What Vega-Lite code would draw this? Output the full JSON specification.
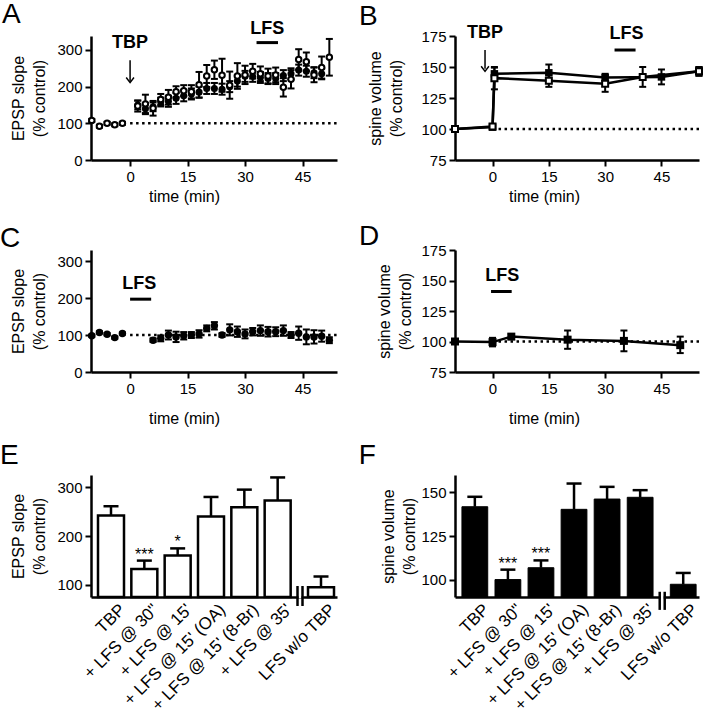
{
"$schema": "https://vega.github.io/schema/vega-lite/v6.json",
"padding": {"left": 0, "top": 1, "right": 0, "bottom": 0},
"spacing": 16,
"vconcat": [
 {"bounds": "flush", "columns": 2, "spacing": {"row": 90, "column": 118}, "concat": [
   {
    "width": 246, "height": 124,
    "data": {"name": "A"},
    "encoding": {
     "x": {"field": "t", "type": "quantitative", "scale": {"domain": [-10.2, 54], "nice": false, "zero": false}, "axis": {"title": "time (min)", "values": [0, 15, 30, 45], "titleX": 93, "titleY": 41, "titleBaseline": "alphabetic"}},
     "y": {"field": "v", "type": "quantitative", "scale": {"domain": [0, 338], "nice": false, "zero": false}, "axis": {"title": ["EPSP slope", "(% control)"], "values": [0, 100, 200, 300], "titleX": -65, "titleBaseline": "bottom"}}
    },
    "layer": [
     {"transform": [{"filter": "datum.s === 'o' && datum.t === -10"}], "mark": {"type": "rule", "strokeDash": [2.5, 3.5], "strokeWidth": 2.5, "color": "black"}, "encoding": {"x": {"datum": 0}, "x2": {"datum": 54}, "y": {"datum": 100}}},
     {"mark": {"type": "rule", "strokeWidth": 2, "color": "black"}, "encoding": {"y": {"field": "lo", "type": "quantitative"}, "y2": {"field": "hi"}}},
     {"mark": {"type": "tick", "orient": "horizontal", "size": 7, "thickness": 2, "color": "black", "opacity": 1}, "encoding": {"y": {"field": "lo", "type": "quantitative"}}},
     {"mark": {"type": "tick", "orient": "horizontal", "size": 7, "thickness": 2, "color": "black", "opacity": 1}, "encoding": {"y": {"field": "hi", "type": "quantitative"}}},
     {"transform": [{"filter": "datum.s === 'f'"}], "mark": {"type": "circle", "size": 50, "color": "black", "opacity": 1}},
     {"transform": [{"filter": "datum.s === 'o'"}], "mark": {"type": "circle", "size": 30, "fill": "white", "stroke": "black", "strokeWidth": 2, "opacity": 1}},
     {"transform": [{"filter": "datum.s === 'o' && datum.t === -10"}], "mark": {"type": "text", "text": "A", "fontSize": 28, "align": "left", "baseline": "alphabetic", "dx": -89, "dy": -13, "color": "black"}, "encoding": {"x": {"datum": -10.2}, "y": {"datum": 338}}},
     {"transform": [{"filter": "datum.s === 'o' && datum.t === -10"}], "mark": {"type": "text", "text": "TBP", "fontSize": 18, "fontWeight": "bold", "color": "black", "baseline": "middle"}, "encoding": {"x": {"datum": 0}, "y": {"datum": 318}}},
     {"transform": [{"filter": "datum.s === 'o' && datum.t === -10"}], "mark": {"type": "rule", "strokeWidth": 1.5, "color": "black"}, "encoding": {"x": {"datum": 0}, "y": {"datum": 272}, "y2": {"datum": 213}}},
     {"transform": [{"filter": "datum.s === 'o' && datum.t === -10"}], "mark": {"type": "point", "shape": "M-1,-1.3L0,0L1,-1.3", "filled": false, "size": 60, "strokeWidth": 1.5, "color": "black", "opacity": 1}, "encoding": {"x": {"datum": 0}, "y": {"datum": 211}}},
     {"transform": [{"filter": "datum.s === 'o' && datum.t === -10"}], "mark": {"type": "text", "text": "LFS", "fontSize": 18, "fontWeight": "bold", "color": "black", "baseline": "middle"}, "encoding": {"x": {"datum": 35.8}, "y": {"datum": 357}}},
     {"transform": [{"filter": "datum.s === 'o' && datum.t === -10"}], "mark": {"type": "rule", "strokeWidth": 3, "color": "black"}, "encoding": {"x": {"datum": 33}, "x2": {"datum": 38.6}, "y": {"datum": 320}}}
    ]
   },
   {
    "width": 244, "height": 124,
    "data": {"name": "B"},
    "encoding": {
     "x": {"field": "t", "type": "quantitative", "scale": {"domain": [-10, 55], "nice": false, "zero": false}, "axis": {"title": "time (min)", "values": [0, 15, 30, 45], "titleX": 89, "titleY": 41, "titleBaseline": "alphabetic"}},
     "y": {"field": "v", "type": "quantitative", "scale": {"domain": [75, 175], "nice": false, "zero": false}, "axis": {"title": ["spine volume", "(% control)"], "values": [75, 100, 125, 150, 175], "titleX": -72, "titleBaseline": "bottom"}}
    },
    "layer": [
     {"transform": [{"filter": "datum.s === 'o' && datum.t === -10"}], "mark": {"type": "rule", "strokeDash": [2.5, 3.5], "strokeWidth": 2.5, "color": "black"}, "encoding": {"x": {"datum": 0}, "x2": {"datum": 55}, "y": {"datum": 100}}},
     {"mark": {"type": "line", "strokeWidth": 2.5, "color": "black"}, "encoding": {"detail": {"field": "s"}}},
     {"mark": {"type": "rule", "strokeWidth": 2, "color": "black"}, "encoding": {"y": {"field": "lo", "type": "quantitative"}, "y2": {"field": "hi"}}},
     {"mark": {"type": "tick", "orient": "horizontal", "size": 7, "thickness": 2, "color": "black", "opacity": 1}, "encoding": {"y": {"field": "lo", "type": "quantitative"}}},
     {"mark": {"type": "tick", "orient": "horizontal", "size": 7, "thickness": 2, "color": "black", "opacity": 1}, "encoding": {"y": {"field": "hi", "type": "quantitative"}}},
     {"transform": [{"filter": "datum.s === 'f'"}], "mark": {"type": "square", "size": 56, "color": "black", "opacity": 1}},
     {"transform": [{"filter": "datum.s === 'o'"}], "mark": {"type": "square", "size": 36, "fill": "white", "stroke": "black", "strokeWidth": 2, "opacity": 1}},
     {"transform": [{"filter": "datum.s === 'o' && datum.t === -10"}], "mark": {"type": "text", "text": "B", "fontSize": 28, "align": "left", "baseline": "alphabetic", "dx": -96, "dy": -11, "color": "black"}, "encoding": {"x": {"datum": -10}, "y": {"datum": 175}}},
     {"transform": [{"filter": "datum.s === 'o' && datum.t === -10"}], "mark": {"type": "text", "text": "TBP", "fontSize": 18, "fontWeight": "bold", "color": "black", "baseline": "middle"}, "encoding": {"x": {"datum": -2}, "y": {"datum": 177.4}}},
     {"transform": [{"filter": "datum.s === 'o' && datum.t === -10"}], "mark": {"type": "rule", "strokeWidth": 1.5, "color": "black"}, "encoding": {"x": {"datum": -2}, "y": {"datum": 163.7}, "y2": {"datum": 148.5}}},
     {"transform": [{"filter": "datum.s === 'o' && datum.t === -10"}], "mark": {"type": "point", "shape": "M-1,-1.3L0,0L1,-1.3", "filled": false, "size": 60, "strokeWidth": 1.5, "color": "black", "opacity": 1}, "encoding": {"x": {"datum": -2}, "y": {"datum": 146.5}}},
     {"transform": [{"filter": "datum.s === 'o' && datum.t === -10"}], "mark": {"type": "text", "text": "LFS", "fontSize": 18, "fontWeight": "bold", "color": "black", "baseline": "middle"}, "encoding": {"x": {"datum": 35.7}, "y": {"datum": 177}}},
     {"transform": [{"filter": "datum.s === 'o' && datum.t === -10"}], "mark": {"type": "rule", "strokeWidth": 3, "color": "black"}, "encoding": {"x": {"datum": 32.5}, "x2": {"datum": 38.1}, "y": {"datum": 163.7}}}
    ]
   },
   {
    "width": 246, "height": 122,
    "data": {"name": "C"},
    "encoding": {
     "x": {"field": "t", "type": "quantitative", "scale": {"domain": [-10.2, 54], "nice": false, "zero": false}, "axis": {"title": "time (min)", "values": [0, 15, 30, 45], "titleX": 93, "titleY": 51, "titleBaseline": "alphabetic"}},
     "y": {"field": "v", "type": "quantitative", "scale": {"domain": [0, 330], "nice": false, "zero": false}, "axis": {"title": ["EPSP slope", "(% control)"], "values": [0, 100, 200, 300], "titleX": -65, "titleBaseline": "bottom"}}
    },
    "layer": [
     {"transform": [{"filter": "datum.t === -10"}], "mark": {"type": "rule", "strokeDash": [2.5, 3.5], "strokeWidth": 2.5, "color": "black"}, "encoding": {"x": {"datum": 0}, "x2": {"datum": 54}, "y": {"datum": 100}}},
     {"mark": {"type": "rule", "strokeWidth": 2, "color": "black"}, "encoding": {"y": {"field": "lo", "type": "quantitative"}, "y2": {"field": "hi"}}},
     {"mark": {"type": "tick", "orient": "horizontal", "size": 7, "thickness": 2, "color": "black", "opacity": 1}, "encoding": {"y": {"field": "lo", "type": "quantitative"}}},
     {"mark": {"type": "tick", "orient": "horizontal", "size": 7, "thickness": 2, "color": "black", "opacity": 1}, "encoding": {"y": {"field": "hi", "type": "quantitative"}}},
     {"mark": {"type": "circle", "size": 55, "color": "black", "opacity": 1}},
     {"transform": [{"filter": "datum.t === -10"}], "mark": {"type": "text", "text": "C", "fontSize": 28, "align": "left", "baseline": "alphabetic", "dx": -91, "dy": -3, "color": "black"}, "encoding": {"x": {"datum": -10.2}, "y": {"datum": 330}}},
     {"transform": [{"filter": "datum.t === -10"}], "mark": {"type": "text", "text": "LFS", "fontSize": 18, "fontWeight": "bold", "color": "black", "baseline": "middle"}, "encoding": {"x": {"datum": 2.4}, "y": {"datum": 237}}},
     {"transform": [{"filter": "datum.t === -10"}], "mark": {"type": "rule", "strokeWidth": 3, "color": "black"}, "encoding": {"x": {"datum": 0}, "x2": {"datum": 5.5}, "y": {"datum": 197}}}
    ]
   },
   {
    "width": 244, "height": 122,
    "data": {"name": "D"},
    "encoding": {
     "x": {"field": "t", "type": "quantitative", "scale": {"domain": [-10, 55], "nice": false, "zero": false}, "axis": {"title": "time (min)", "values": [0, 15, 30, 45], "titleX": 89, "titleY": 51, "titleBaseline": "alphabetic"}},
     "y": {"field": "v", "type": "quantitative", "scale": {"domain": [75, 175], "nice": false, "zero": false}, "axis": {"title": ["spine volume", "(% control)"], "values": [75, 100, 125, 150, 175], "titleX": -63, "titleBaseline": "bottom"}}
    },
    "layer": [
     {"transform": [{"filter": "datum.t === -10"}], "mark": {"type": "rule", "strokeDash": [2.5, 3.5], "strokeWidth": 2.5, "color": "black"}, "encoding": {"x": {"datum": 0}, "x2": {"datum": 55}, "y": {"datum": 100}}},
     {"mark": {"type": "line", "strokeWidth": 2.5, "color": "black"}},
     {"mark": {"type": "rule", "strokeWidth": 2, "color": "black"}, "encoding": {"y": {"field": "lo", "type": "quantitative"}, "y2": {"field": "hi"}}},
     {"mark": {"type": "tick", "orient": "horizontal", "size": 7, "thickness": 2, "color": "black", "opacity": 1}, "encoding": {"y": {"field": "lo", "type": "quantitative"}}},
     {"mark": {"type": "tick", "orient": "horizontal", "size": 7, "thickness": 2, "color": "black", "opacity": 1}, "encoding": {"y": {"field": "hi", "type": "quantitative"}}},
     {"mark": {"type": "square", "size": 64, "color": "black", "opacity": 1}},
     {"transform": [{"filter": "datum.t === -10"}], "mark": {"type": "text", "text": "D", "fontSize": 28, "align": "left", "baseline": "alphabetic", "dx": -96, "dy": -5, "color": "black"}, "encoding": {"x": {"datum": -10}, "y": {"datum": 175}}},
     {"transform": [{"filter": "datum.t === -10"}], "mark": {"type": "text", "text": "LFS", "fontSize": 18, "fontWeight": "bold", "color": "black", "baseline": "middle"}, "encoding": {"x": {"datum": 2.6}, "y": {"datum": 153.7}}},
     {"transform": [{"filter": "datum.t === -10"}], "mark": {"type": "rule", "strokeWidth": 3, "color": "black"}, "encoding": {"x": {"datum": -0.4}, "x2": {"datum": 5.1}, "y": {"datum": 141}}}
    ]
   }
 ]},
 {"bounds": "flush", "spacing": 118, "hconcat": [
  {
   "width": 246, "height": 122,
   "data": {"name": "E"},
   "encoding": {
    "x": {"field": "c", "type": "nominal", "scale": {"domain": ["TBP", "+ LFS @ 30\"", "+ LFS @ 15'", "+ LFS @ 15' (OA)", "+ LFS @ 15' (8-Br)", "+ LFS @ 35'", "LFS w/o TBP"], "paddingInner": 0.22, "paddingOuter": 0.3, "align": 0.35}, "axis": {"title": null, "labelAngle": -45, "labelFontSize": 17, "ticks": false, "labelPadding": 4, "labelOffset": {"condition": {"test": "datum.value === 'LFS w/o TBP'", "value": 16}, "value": 6}}},
    "y": {"field": "v", "type": "quantitative", "scale": {"domain": [75, 325], "nice": false, "zero": false}, "axis": {"title": ["EPSP slope", "(% control)"], "values": [100, 200, 300], "titleX": -65, "titleBaseline": "bottom"}}
   },
   "layer": [
    {"transform": [{"filter": "datum.c !== 'LFS w/o TBP'"}], "mark": {"type": "bar", "fill": "white", "stroke": "black", "strokeWidth": 2.5}, "encoding": {"y2": {"datum": 75}}},
    {"transform": [{"filter": "datum.c === 'LFS w/o TBP'"}], "mark": {"type": "bar", "fill": "white", "stroke": "black", "strokeWidth": 2.5, "xOffset": 10}, "encoding": {"y2": {"datum": 75}}},
    {"transform": [{"filter": "datum.c !== 'LFS w/o TBP'"}], "mark": {"type": "rule", "strokeWidth": 2.5, "color": "black"}, "encoding": {"y2": {"field": "hi"}}},
    {"transform": [{"filter": "datum.c === 'LFS w/o TBP'"}], "mark": {"type": "rule", "strokeWidth": 2.5, "color": "black", "xOffset": 10}, "encoding": {"y2": {"field": "hi"}}},
    {"transform": [{"filter": "datum.c !== 'LFS w/o TBP'"}], "mark": {"type": "tick", "orient": "horizontal", "size": 15, "thickness": 2.5, "color": "black", "opacity": 1}, "encoding": {"y": {"field": "hi", "type": "quantitative"}}},
    {"transform": [{"filter": "datum.c === 'LFS w/o TBP'"}], "mark": {"type": "tick", "orient": "horizontal", "size": 15, "thickness": 2.5, "color": "black", "opacity": 1, "xOffset": 10}, "encoding": {"y": {"field": "hi", "type": "quantitative"}}},
    {"transform": [{"filter": "datum.sig"}], "mark": {"type": "text", "fontSize": 16, "baseline": "alphabetic", "dy": -1, "color": "black"}, "encoding": {"y": {"field": "hi", "type": "quantitative"}, "text": {"field": "sig"}}},
    {"transform": [{"filter": "datum.c === 'TBP'"}], "mark": {"type": "text", "text": "E", "fontSize": 28, "align": "left", "baseline": "alphabetic", "dx": -111, "dy": -11, "color": "black"}, "encoding": {"y": {"datum": 325}}},
    {"transform": [{"filter": "datum.c === 'LFS w/o TBP'"}], "mark": {"type": "rule", "strokeWidth": 3, "color": "white", "xOffset": -11}, "encoding": {"y": {"datum": 78}, "y2": {"datum": 72}}},
    {"transform": [{"filter": "datum.c === 'LFS w/o TBP'"}], "mark": {"type": "rule", "strokeWidth": 2.5, "color": "black", "xOffset": -13.5}, "encoding": {"y": {"datum": 97.5}, "y2": {"datum": 56.6}}},
    {"transform": [{"filter": "datum.c === 'LFS w/o TBP'"}], "mark": {"type": "rule", "strokeWidth": 2.5, "color": "black", "xOffset": -8.5}, "encoding": {"y": {"datum": 97.5}, "y2": {"datum": 56.6}}}
   ]
  },
  {
   "width": 244, "height": 122,
   "data": {"name": "F"},
   "encoding": {
    "x": {"field": "c", "type": "nominal", "scale": {"domain": ["TBP", "+ LFS @ 30\"", "+ LFS @ 15'", "+ LFS @ 15' (OA)", "+ LFS @ 15' (8-Br)", "+ LFS @ 35'", "LFS w/o TBP"], "paddingInner": 0.22, "paddingOuter": 0.3, "align": 0.35}, "axis": {"title": null, "labelAngle": -45, "labelFontSize": 17, "ticks": false, "labelPadding": 4, "labelOffset": {"condition": {"test": "datum.value === 'LFS w/o TBP'", "value": 16}, "value": 6}}},
    "y": {"field": "v", "type": "quantitative", "scale": {"domain": [90, 160], "nice": false, "zero": false}, "axis": {"title": ["spine volume", "(% control)"], "values": [100, 125, 150], "titleX": -59, "titleBaseline": "bottom"}}
   },
   "layer": [
    {"transform": [{"filter": "datum.c !== 'LFS w/o TBP'"}], "mark": {"type": "bar", "fill": "black", "stroke": "black", "strokeWidth": 1}, "encoding": {"y2": {"datum": 90}}},
    {"transform": [{"filter": "datum.c === 'LFS w/o TBP'"}], "mark": {"type": "bar", "fill": "black", "stroke": "black", "strokeWidth": 1, "xOffset": 10}, "encoding": {"y2": {"datum": 90}}},
    {"transform": [{"filter": "datum.c !== 'LFS w/o TBP'"}], "mark": {"type": "rule", "strokeWidth": 2.5, "color": "black"}, "encoding": {"y2": {"field": "hi"}}},
    {"transform": [{"filter": "datum.c === 'LFS w/o TBP'"}], "mark": {"type": "rule", "strokeWidth": 2.5, "color": "black", "xOffset": 10}, "encoding": {"y2": {"field": "hi"}}},
    {"transform": [{"filter": "datum.c !== 'LFS w/o TBP'"}], "mark": {"type": "tick", "orient": "horizontal", "size": 15, "thickness": 2.5, "color": "black", "opacity": 1}, "encoding": {"y": {"field": "hi", "type": "quantitative"}}},
    {"transform": [{"filter": "datum.c === 'LFS w/o TBP'"}], "mark": {"type": "tick", "orient": "horizontal", "size": 15, "thickness": 2.5, "color": "black", "opacity": 1, "xOffset": 10}, "encoding": {"y": {"field": "hi", "type": "quantitative"}}},
    {"transform": [{"filter": "datum.sig"}], "mark": {"type": "text", "fontSize": 16, "baseline": "alphabetic", "dy": -1, "color": "black"}, "encoding": {"y": {"field": "hi", "type": "quantitative"}, "text": {"field": "sig"}}},
    {"transform": [{"filter": "datum.c === 'TBP'"}], "mark": {"type": "text", "text": "F", "fontSize": 28, "align": "left", "baseline": "alphabetic", "dx": -116, "dy": -11, "color": "black"}, "encoding": {"y": {"datum": 160}}},
    {"transform": [{"filter": "datum.c === 'LFS w/o TBP'"}], "mark": {"type": "rule", "strokeWidth": 3, "color": "white", "xOffset": -11}, "encoding": {"y": {"datum": 91.5}, "y2": {"datum": 88.5}}},
    {"transform": [{"filter": "datum.c === 'LFS w/o TBP'"}], "mark": {"type": "rule", "strokeWidth": 2.5, "color": "black", "xOffset": -13.5}, "encoding": {"y": {"datum": 93}, "y2": {"datum": 82.6}}},
    {"transform": [{"filter": "datum.c === 'LFS w/o TBP'"}], "mark": {"type": "rule", "strokeWidth": 2.5, "color": "black", "xOffset": -8.5}, "encoding": {"y": {"datum": 93}, "y2": {"datum": 82.6}}}
   ]
  }
 ]}
],
"datasets": {
 "A": [
  {"s": "o", "t": -10, "v": 108, "lo": 104, "hi": 112},
  {"s": "o", "t": -8, "v": 92, "lo": 88, "hi": 96},
  {"s": "o", "t": -6, "v": 100, "lo": 96, "hi": 104},
  {"s": "o", "t": -4, "v": 96, "lo": 92, "hi": 100},
  {"s": "o", "t": -2, "v": 100, "lo": 96, "hi": 104},
  {"s": "f", "t": 2, "v": 150, "lo": 138, "hi": 162},
  {"s": "f", "t": 4, "v": 140, "lo": 125, "hi": 155},
  {"s": "f", "t": 6, "v": 145, "lo": 133, "hi": 157},
  {"s": "f", "t": 8, "v": 158, "lo": 146, "hi": 170},
  {"s": "f", "t": 10, "v": 160, "lo": 145, "hi": 175},
  {"s": "f", "t": 12, "v": 168, "lo": 153, "hi": 183},
  {"s": "f", "t": 14, "v": 175, "lo": 160, "hi": 190},
  {"s": "f", "t": 16, "v": 180, "lo": 165, "hi": 195},
  {"s": "f", "t": 18, "v": 185, "lo": 170, "hi": 200},
  {"s": "f", "t": 20, "v": 195, "lo": 180, "hi": 210},
  {"s": "f", "t": 22, "v": 195, "lo": 180, "hi": 210},
  {"s": "f", "t": 24, "v": 193, "lo": 178, "hi": 208},
  {"s": "f", "t": 26, "v": 200, "lo": 185, "hi": 215},
  {"s": "f", "t": 28, "v": 215, "lo": 200, "hi": 230},
  {"s": "f", "t": 30, "v": 228, "lo": 213, "hi": 243},
  {"s": "f", "t": 32, "v": 228, "lo": 213, "hi": 243},
  {"s": "f", "t": 34, "v": 225, "lo": 210, "hi": 240},
  {"s": "f", "t": 36, "v": 222, "lo": 207, "hi": 237},
  {"s": "f", "t": 38, "v": 222, "lo": 207, "hi": 237},
  {"s": "f", "t": 40, "v": 230, "lo": 215, "hi": 245},
  {"s": "f", "t": 42, "v": 235, "lo": 220, "hi": 250},
  {"s": "f", "t": 44, "v": 245, "lo": 230, "hi": 260},
  {"s": "f", "t": 46, "v": 242, "lo": 227, "hi": 257},
  {"s": "f", "t": 48, "v": 238, "lo": 223, "hi": 253},
  {"s": "f", "t": 50, "v": 235, "lo": 220, "hi": 250},
  {"s": "o", "t": 2, "v": 147, "lo": 132, "hi": 162},
  {"s": "o", "t": 4, "v": 153, "lo": 128, "hi": 178},
  {"s": "o", "t": 6, "v": 141, "lo": 121, "hi": 161},
  {"s": "o", "t": 8, "v": 165, "lo": 150, "hi": 180},
  {"s": "o", "t": 10, "v": 171, "lo": 151, "hi": 191},
  {"s": "o", "t": 12, "v": 186, "lo": 171, "hi": 201},
  {"s": "o", "t": 14, "v": 189, "lo": 174, "hi": 204},
  {"s": "o", "t": 16, "v": 186, "lo": 168, "hi": 204},
  {"s": "o", "t": 18, "v": 205, "lo": 170, "hi": 240},
  {"s": "o", "t": 20, "v": 229, "lo": 199, "hi": 259},
  {"s": "o", "t": 22, "v": 246, "lo": 221, "hi": 271},
  {"s": "o", "t": 24, "v": 231, "lo": 186, "hi": 276},
  {"s": "o", "t": 26, "v": 204, "lo": 167, "hi": 241},
  {"s": "o", "t": 28, "v": 229, "lo": 194, "hi": 264},
  {"s": "o", "t": 30, "v": 232, "lo": 207, "hi": 257},
  {"s": "o", "t": 32, "v": 242, "lo": 222, "hi": 262},
  {"s": "o", "t": 34, "v": 235, "lo": 215, "hi": 255},
  {"s": "o", "t": 36, "v": 229, "lo": 209, "hi": 249},
  {"s": "o", "t": 38, "v": 232, "lo": 212, "hi": 252},
  {"s": "o", "t": 40, "v": 198, "lo": 173, "hi": 223},
  {"s": "o", "t": 42, "v": 220, "lo": 195, "hi": 245},
  {"s": "o", "t": 44, "v": 274, "lo": 246, "hi": 302},
  {"s": "o", "t": 46, "v": 268, "lo": 243, "hi": 293},
  {"s": "o", "t": 48, "v": 232, "lo": 212, "hi": 252},
  {"s": "o", "t": 50, "v": 252, "lo": 222, "hi": 282},
  {"s": "o", "t": 52, "v": 280, "lo": 230, "hi": 330}
 ],
 "B": [
  {"s": "f", "t": -10, "v": 100, "lo": 99, "hi": 101},
  {"s": "f", "t": 0, "v": 101.5, "lo": 100, "hi": 103},
  {"s": "f", "t": 0.5, "v": 144.5, "lo": 139.5, "hi": 149.5},
  {"s": "f", "t": 15, "v": 145.3, "lo": 139, "hi": 152},
  {"s": "f", "t": 30, "v": 141.5, "lo": 138.5, "hi": 144.5},
  {"s": "f", "t": 45, "v": 142, "lo": 136, "hi": 148},
  {"s": "f", "t": 55, "v": 146.5, "lo": 143, "hi": 150},
  {"s": "o", "t": -10, "v": 100, "lo": 99, "hi": 101},
  {"s": "o", "t": 0, "v": 102, "lo": 100.5, "hi": 103.5},
  {"s": "o", "t": 0.5, "v": 141, "lo": 132, "hi": 150},
  {"s": "o", "t": 15, "v": 139, "lo": 134, "hi": 144},
  {"s": "o", "t": 30, "v": 136.5, "lo": 130, "hi": 143},
  {"s": "o", "t": 40, "v": 142, "lo": 134, "hi": 150},
  {"s": "o", "t": 55, "v": 146.5, "lo": 143, "hi": 150}
 ],
 "C": [
  {"t": -10, "v": 98, "lo": 95, "hi": 101},
  {"t": -8, "v": 107, "lo": 104, "hi": 110},
  {"t": -6, "v": 102, "lo": 99, "hi": 105},
  {"t": -4, "v": 93, "lo": 90, "hi": 96},
  {"t": -2, "v": 104, "lo": 101, "hi": 107},
  {"t": 6, "v": 86, "lo": 81, "hi": 91},
  {"t": 8, "v": 91, "lo": 83, "hi": 99},
  {"t": 10, "v": 100, "lo": 88, "hi": 112},
  {"t": 12, "v": 95, "lo": 81, "hi": 109},
  {"t": 14, "v": 98, "lo": 88, "hi": 108},
  {"t": 16, "v": 100, "lo": 92, "hi": 108},
  {"t": 18, "v": 103, "lo": 93, "hi": 113},
  {"t": 20, "v": 118, "lo": 110, "hi": 126},
  {"t": 22, "v": 125, "lo": 115, "hi": 135},
  {"t": 24, "v": 100, "lo": 95, "hi": 105},
  {"t": 26, "v": 114, "lo": 99, "hi": 129},
  {"t": 28, "v": 109, "lo": 95, "hi": 123},
  {"t": 30, "v": 103, "lo": 91, "hi": 115},
  {"t": 32, "v": 109, "lo": 99, "hi": 119},
  {"t": 34, "v": 112, "lo": 98, "hi": 126},
  {"t": 36, "v": 109, "lo": 96, "hi": 122},
  {"t": 38, "v": 109, "lo": 97, "hi": 121},
  {"t": 40, "v": 112, "lo": 98, "hi": 126},
  {"t": 42, "v": 100, "lo": 92, "hi": 108},
  {"t": 44, "v": 105, "lo": 87, "hi": 123},
  {"t": 46, "v": 95, "lo": 75, "hi": 115},
  {"t": 48, "v": 95, "lo": 77, "hi": 113},
  {"t": 50, "v": 97, "lo": 82, "hi": 112},
  {"t": 52, "v": 86, "lo": 78, "hi": 94}
 ],
 "D": [
  {"t": -10, "v": 100, "lo": 99, "hi": 101},
  {"t": 0, "v": 99.5, "lo": 96, "hi": 103},
  {"t": 5, "v": 104, "lo": 102, "hi": 106},
  {"t": 20, "v": 101.5, "lo": 94, "hi": 109},
  {"t": 35, "v": 100.5, "lo": 92, "hi": 109},
  {"t": 50, "v": 97, "lo": 90.5, "hi": 104}
 ],
 "E": [
  {"c": "TBP", "v": 242, "hi": 261},
  {"c": "+ LFS @ 30\"", "v": 132.5, "hi": 149.6, "sig": "***"},
  {"c": "+ LFS @ 15'", "v": 160, "hi": 174.6, "sig": "*"},
  {"c": "+ LFS @ 15' (OA)", "v": 240, "hi": 280},
  {"c": "+ LFS @ 15' (8-Br)", "v": 259, "hi": 295},
  {"c": "+ LFS @ 35'", "v": 273, "hi": 320},
  {"c": "LFS w/o TBP", "v": 95, "hi": 117}
 ],
 "F": [
  {"c": "TBP", "v": 141.8, "hi": 147.5},
  {"c": "+ LFS @ 30\"", "v": 100, "hi": 105.7, "sig": "***"},
  {"c": "+ LFS @ 15'", "v": 106.8, "hi": 111, "sig": "***"},
  {"c": "+ LFS @ 15' (OA)", "v": 140.3, "hi": 155.1},
  {"c": "+ LFS @ 15' (8-Br)", "v": 146.2, "hi": 153.2},
  {"c": "+ LFS @ 35'", "v": 147.2, "hi": 151.3},
  {"c": "LFS w/o TBP", "v": 97.3, "hi": 103.8}
 ]
},
"config": {
 "view": {"stroke": null},
 "font": "Liberation Sans",
 "axis": {"domainColor": "black", "domainWidth": 2.5, "tickColor": "black", "tickWidth": 2, "tickSize": 6, "labelFontSize": 15, "labelColor": "black", "labelFont": "Liberation Sans", "titleFont": "Liberation Sans", "titleFontSize": 16, "titleFontWeight": "normal", "titleColor": "black", "titleLineHeight": 21, "grid": false, "labelPadding": 3, "labelFlush": false, "labelOverlap": false}
}
}
